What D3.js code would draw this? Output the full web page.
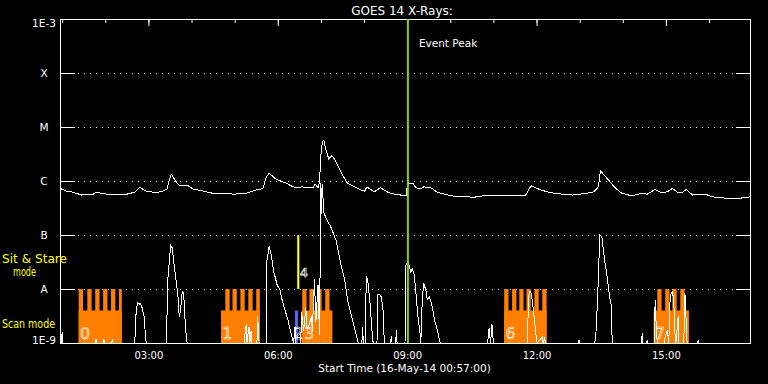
<!DOCTYPE html>
<html>
<head>
<meta charset="utf-8">
<script src="https://cdn.jsdelivr.net/npm/d3@7"></script>
<style>
  html, body { margin: 0; padding: 0; background: #000; }
  svg { display: block; }
</style>
</head>
<body>
<svg width="768" height="384"></svg>
<script>
// time window of the plot (16-May-14)
const day = '2014-05-16 ';
const startTime = '00:57';
const endTime = '16:57';
const eventPeak = '09:01';

const yTickValues = [1e-9, 1e-8, 1e-7, 1e-6, 1e-5, 1e-4, 1e-3];
const yTickLabels = ['1E-9', 'A', 'B', 'C', 'M', 'X', '1E-3'];

// GOES long channel
const goesTimes = [
  '00:57','01:06','01:15','01:27','01:43','01:48','01:57','02:16','02:30','02:41',
  '02:48','02:57','03:11','03:20','03:26','03:29','03:32','03:37','03:43','03:49',
  '03:55','04:02','04:16','04:30','04:48','04:58','05:16','05:30','05:37','05:40',
  '05:43','05:48','05:58','06:12','06:21','06:30','06:33','06:42','06:49','06:52',
  '06:56','06:58','07:00','07:02','07:04','07:07','07:11','07:15','07:19','07:24',
  '07:30','07:37','07:47','07:56','08:01','08:04','08:14','08:23','08:33','08:42',
  '08:50','08:52','08:59','09:00','09:03','09:08','09:12','09:18','09:23','09:33',
  '09:42','10:01','10:33','10:52','11:01','11:20','11:36','11:45','11:50','11:53',
  '12:04','12:18','12:36','12:50','13:09','13:20','13:26','13:29','13:34','13:41',
  '13:50','13:59','14:13','14:25','14:34','14:45','14:53','15:02','15:09','15:16',
  '15:23','15:28','15:37','15:48','15:55','16:04','16:23','16:41','16:51','16:57'
];
const goesFlux = [
  7.3e-7,6.5e-7,6.2e-7,5.5e-7,5.7e-7,6.2e-7,5.8e-7,5.5e-7,5.7e-7,6.2e-7,
  7.6e-7,6.5e-7,6.1e-7,6.5e-7,7.1e-7,1.04e-6,1.33e-6,1.04e-6,8.2e-7,8.4e-7,
  8.2e-7,7.1e-7,6.5e-7,5.9e-7,5.9e-7,5.7e-7,5.9e-7,6.8e-7,7.1e-7,7.5e-7,
  1.12e-6,1.39e-6,1.07e-6,9.1e-7,7.8e-7,7.5e-7,7.8e-7,7.5e-7,7.5e-7,8.7e-7,
  7.5e-7,9.7e-7,3.0e-6,5.3e-6,5.7e-6,3.75e-6,2.55e-6,2.94e-6,2.55e-6,1.84e-6,
  1.29e-6,9.1e-7,7.8e-7,6.8e-7,6.5e-7,7.8e-7,6.3e-7,7.5e-7,6.2e-7,5.7e-7,
  5.7e-7,5.3e-7,5.3e-7,8.2e-7,9.1e-7,9.1e-7,7.5e-7,7.1e-7,7.8e-7,7.5e-7,
  6.2e-7,5.3e-7,5.0e-7,5.5e-7,5.3e-7,5.3e-7,5.3e-7,5.5e-7,7.3e-7,8.1e-7,
  7.0e-7,6.1e-7,5.7e-7,5.5e-7,5.9e-7,6.3e-7,7.8e-7,1.55e-6,1.29e-6,1.01e-6,
  7.3e-7,5.9e-7,5.3e-7,5.9e-7,5.7e-7,7.0e-7,6.1e-7,6.3e-7,7.3e-7,6.2e-7,
  6.1e-7,7.0e-7,5.5e-7,5.7e-7,5.7e-7,5.1e-7,4.8e-7,4.8e-7,4.9e-7,5.1e-7
];

// lower trace (spiky, sits on the 1E-9 floor most of the time)
const lowTimes = [
  '00:57','00:59','01:00','01:01','01:46','01:47','01:48','01:57','01:58','01:59','02:09','02:10','02:11',
  '02:41','02:43','02:45','02:47','02:49','02:51','02:54','02:56','02:57',
  '03:25','03:27','03:31','03:33','03:38','03:41','03:43','03:45','03:47','03:49','03:51','03:53','03:54',
  '05:13','05:16','05:17','05:20','05:21','05:23','05:24','05:31','05:32','05:34',
  '05:44','05:45','05:48','05:51','05:54','05:59','06:03','06:06','06:10','06:14','06:19','06:21','06:22','06:24','06:25',
  '06:32','06:33','06:36','06:39','06:41','06:47','06:48','06:51','06:53','06:56','06:58',
  '07:00','07:01','07:02','07:04','07:07','07:10','07:13','07:21','07:28','07:33','07:37','07:44','07:51','07:52',
  '07:57','07:58','07:59','08:02','08:03','08:05','08:08','08:10','08:12','08:13',
  '08:18','08:19','08:21','08:24','08:27','08:28','08:29','08:37','08:38','08:39','08:44','08:45','08:46',
  '08:57','08:58','09:01','09:03','09:05','09:07','09:10','09:12','09:15','09:18','09:19',
  '09:21','09:23','09:24','09:26','09:28','09:31','09:35','09:38','09:42','09:45','09:46',
  '10:52','10:54','10:56','10:58','11:00',
  '11:47','11:49','11:50','11:52','11:54','11:57','12:00','12:01','12:08','12:09','12:11','12:13',
  '12:58','12:59','13:00',
  '13:21','13:23','13:26','13:28','13:31','13:33','13:35','13:38','13:42','13:44','13:45','13:46',
  '14:26','14:27','14:28','14:33','14:34','14:35','14:44','14:45','14:47','14:48',
  '14:58','14:59','15:02','15:04','15:06','15:09','15:11','15:12','15:14','15:17','15:18',
  '15:25','15:26','15:27','15:29','15:30','15:44','15:45','15:46','16:57'
];
const lowFlux = [
  1e-9,1e-9,1.6e-9,1e-9,1e-9,1.2e-9,1e-9,1e-9,1.2e-9,1e-9,1e-9,1.2e-9,1e-9,
  1e-9,4.0e-9,5.6e-9,5.2e-9,5.4e-9,4.6e-9,3.1e-9,1.3e-9,1e-9,
  1e-9,1.5e-8,6.5e-8,5.8e-8,1.6e-8,8.0e-9,3.0e-9,4.5e-9,8.9e-9,8.4e-9,2.7e-9,1.14e-9,1e-9,
  1e-9,2.2e-9,1e-9,2.0e-9,1e-9,1.7e-9,1e-9,1e-9,3.1e-9,1e-9,
  1e-9,3.4e-8,6.1e-8,4.2e-8,2.2e-8,1.2e-8,9.6e-9,6.3e-9,4.1e-9,2.7e-9,1.4e-9,1.14e-9,1e-9,2.0e-9,1e-9,
  1e-9,3.8e-9,1.7e-9,4.5e-9,1.7e-9,3.1e-9,1.6e-9,1.5e-8,2.45e-9,1.2e-8,1.4e-9,
  9.2e-7,2.5e-7,8.7e-7,2.6e-7,2.1e-7,1.7e-7,1.5e-7,8.0e-8,2.8e-8,1.5e-8,6.3e-9,2.7e-9,1.14e-9,1e-9,
  1e-9,2.0e-9,1e-9,1e-9,1.7e-8,1.5e-8,6.3e-9,2.7e-9,1.14e-9,1e-9,
  1e-9,7.8e-9,8.1e-9,7.1e-9,3.6e-9,1.14e-9,1e-9,1e-9,1.35e-9,1e-9,1e-9,1.74e-9,1e-9,
  1e-9,2.7e-8,3.2e-8,2.7e-8,2.05e-8,2.4e-8,1.8e-8,8.9e-9,3.1e-9,1.5e-9,1e-9,
  6.3e-9,1.3e-8,1.15e-8,9.6e-9,6.3e-9,7.2e-9,4.7e-9,2.7e-9,1.74e-9,1.14e-9,1e-9,
  1e-9,1.9e-9,1e-9,2.2e-9,1e-9,
  1e-9,6.3e-9,8.9e-9,9.0e-9,6.3e-9,2.7e-9,1.14e-9,1e-9,1.3e-9,1e-9,1.2e-9,1e-9,
  1e-9,1.14e-9,1e-9,
  1e-9,1.74e-9,1.5e-8,1.0e-7,9.2e-8,5.3e-8,3.15e-8,1.8e-8,6.8e-9,5.1e-9,1.4e-9,1e-9,
  1e-9,1.5e-9,1e-9,1e-9,1.14e-9,1e-9,1e-9,6.3e-9,1.5e-9,1e-9,
  1e-9,1.3e-9,1.74e-9,1e-9,7.8e-9,8.8e-9,6.3e-9,1.74e-9,1e-9,3.1e-9,1e-9,
  1e-9,8.3e-9,7.4e-9,1.14e-9,1e-9,1e-9,1.14e-9,1e-9,1e-9
];

// scan mode intervals (orange)
const scanStarts = ['01:23', '04:41', '06:33', '11:15', '14:43'];
const scanEnds   = ['02:23', '05:35', '07:16', '12:14', '15:32'];
const scanLabels = ['0', '1', '3', '6', '7'];
const scanTeeth = [
  ['01:23', '01:35', '01:46', '01:57', '02:08', '02:19'],
  ['04:47', '04:57', '05:08', '05:19', '05:30'],
  ['06:34', '06:44', '06:55', '07:06'],
  ['11:15', '11:26', '11:36', '11:46', '11:57', '12:08'],
  ['14:48', '14:59', '15:09', '15:20']
];
const toothMinutes = 6;
const scanLow = 4e-9;
const scanHigh = 1e-8;

// other pointings
const blueStart = '06:24', blueEnd = '06:28', blueLabel = '2';
const stareStart = '06:27', stareEnd = '06:30', stareLabel = '4';
const stareLow = 1e-8, stareHigh = 1e-7;

const parse = d3.timeParse('%Y-%m-%d %H:%M');
const t = s => parse(day + s);

const font = '"DejaVu Sans", sans-serif';
const svg = d3.select('svg');

const x = d3.scaleTime().domain([t(startTime), t(endTime)]).range([60, 750]);
const y = d3.scaleLog().domain([1e-9, 1e-3]).range([343, 19]);

svg.append('rect').attr('width', 768).attr('height', 384).attr('fill', '#000');

// dotted grid at the class levels
svg.append('g').selectAll('line')
  .data(yTickValues.slice(1, -1))
  .join('line')
  .attr('x1', 78).attr('x2', 735)
  .attr('y1', d => y(d) + 0.5).attr('y2', d => y(d) + 0.5)
  .attr('stroke', '#fff')
  .attr('stroke-dasharray', '1 5');

// scan mode blocks
const gScan = svg.append('g');
scanStarts.forEach((s, i) => {
  const x0 = x(t(s)), x1 = x(t(scanEnds[i]));
  gScan.append('rect')
    .attr('x', x0).attr('width', x1 - x0)
    .attr('y', y(scanLow)).attr('height', y(1e-9) - y(scanLow))
    .attr('fill', '#ff8000');
  scanTeeth[i].forEach(tt => {
    const a = x(t(tt));
    const b = Math.min(x(d3.timeMinute.offset(t(tt), toothMinutes)), x1);
    gScan.append('rect')
      .attr('x', a).attr('width', b - a)
      .attr('y', y(scanHigh)).attr('height', y(1e-9) - y(scanHigh))
      .attr('fill', '#ff8000');
  });
});

svg.append('rect')
  .attr('x', x(t(blueStart))).attr('width', x(t(blueEnd)) - x(t(blueStart)))
  .attr('y', y(scanLow)).attr('height', y(1e-9) - y(scanLow))
  .attr('fill', '#6464ff');

svg.append('rect')
  .attr('x', x(t(stareStart))).attr('width', x(t(stareEnd)) - x(t(stareStart)))
  .attr('y', y(stareHigh)).attr('height', y(stareLow) - y(stareHigh))
  .attr('fill', '#ffff00');

// traces
const line = d3.line().x(d => x(d[0])).y(d => y(d[1]));

svg.append('path')
  .datum(lowTimes.map((s, i) => [t(s), lowFlux[i]]))
  .attr('d', line)
  .attr('fill', 'none')
  .attr('stroke', '#fff')
  .attr('stroke-width', 1)
  .attr('shape-rendering', 'crispEdges');

svg.append('path')
  .datum(goesTimes.map((s, i) => [t(s), goesFlux[i]]))
  .attr('d', line)
  .attr('fill', 'none')
  .attr('stroke', '#fff')
  .attr('stroke-width', 1)
  .attr('shape-rendering', 'crispEdges');

// block numbers
const numStyle = sel => sel
  .attr('font-family', font)
  .attr('font-size', 15)
  .attr('fill', 'none')
  .attr('stroke', '#fff')
  .attr('stroke-width', 0.6);

svg.append('g').selectAll('text')
  .data(scanStarts)
  .join('text')
  .attr('x', (d, i) => x(t(d)) + (scanLabels[i] === '3' ? 3 : 1.5))
  .attr('y', 339)
  .text((d, i) => scanLabels[i])
  .call(numStyle);

svg.append('text').attr('x', x(t(blueStart)) - 1.5).attr('y', 339).text(blueLabel).call(numStyle);
svg.append('text').attr('x', x(t(stareEnd)) + 0.5).attr('y', 277)
  .text(stareLabel).call(numStyle).attr('font-size', 13);

// frame
svg.append('rect')
  .attr('x', 60.5).attr('y', 19.5).attr('width', 690).attr('height', 324)
  .attr('fill', 'none').attr('stroke', '#fff');

// y axes
const gy = svg.append('g').attr('transform', 'translate(60,0)')
  .call(d3.axisLeft(y).tickValues(yTickValues).tickFormat((d, i) => yTickLabels[i]).tickSize(-15).tickPadding(16));
gy.select('.domain').remove();
gy.selectAll('line').attr('stroke', '#fff');
gy.selectAll('text')
  .attr('fill', '#fff')
  .attr('font-family', font)
  .attr('font-size', 10.5)
  .attr('text-anchor', 'middle')
  .attr('x', -16)
  .attr('dy', (d, i) => i === 0 ? '0em' : i === yTickValues.length - 1 ? '0.72em' : '0.35em');

const gyr = svg.append('g').attr('transform', 'translate(750,0)')
  .call(d3.axisRight(y).tickValues(yTickValues).tickFormat('').tickSize(-14));
gyr.select('.domain').remove();
gyr.selectAll('line').attr('stroke', '#fff');

// top ticks
const gTopMinor = svg.append('g').attr('transform', 'translate(0,19)')
  .call(d3.axisTop(x).ticks(d3.timeHour.every(1)).tickSize(-4).tickFormat(''));
const gTopMajor = svg.append('g').attr('transform', 'translate(0,19)')
  .call(d3.axisTop(x).ticks(d3.timeHour.every(3)).tickSize(-7).tickFormat(''));
[gTopMinor, gTopMajor].forEach(g => {
  g.select('.domain').remove();
  g.selectAll('line').attr('stroke', '#fff');
});

// bottom labels
const gx = svg.append('g').attr('transform', 'translate(0,343)')
  .call(d3.axisBottom(x).ticks(d3.timeHour.every(3)).tickFormat(d3.timeFormat('%H:%M')).tickSize(0));
gx.select('.domain').remove();
gx.selectAll('line').remove();
gx.selectAll('text')
  .attr('fill', '#fff')
  .attr('font-family', font)
  .attr('font-size', 10)
  .attr('y', 15.5)
  .attr('dy', null);

svg.append('text')
  .attr('x', 404.5).attr('y', 372)
  .attr('text-anchor', 'middle')
  .attr('font-family', font).attr('font-size', 10.5)
  .attr('fill', '#fff')
  .text('Start Time (16-May-14 00:57:00)');

// title
svg.append('text')
  .attr('x', 402).attr('y', 14.5)
  .attr('text-anchor', 'middle')
  .attr('font-family', font).attr('font-size', 12)
  .attr('fill', '#fff')
  .text('GOES 14 X-Rays:');

// event peak
const xe = x(t(eventPeak));
svg.append('line')
  .attr('x1', xe).attr('x2', xe)
  .attr('y1', 19).attr('y2', 343)
  .attr('stroke', '#99cc00')
  .attr('stroke-width', 2);
svg.append('text')
  .attr('x', xe + 11).attr('y', 47)
  .attr('font-family', font).attr('font-size', 10.5)
  .attr('fill', '#fff')
  .text('Event Peak');

// mode labels
const modeLabels = [
  {text: 'Sit & Stare', x: 2, y: 263, len: 65},
  {text: 'mode', x: 13, y: 276, len: 23},
  {text: 'Scan mode', x: 2, y: 328, len: 53}
];
svg.append('g').selectAll('text')
  .data(modeLabels)
  .join('text')
  .attr('x', d => d.x).attr('y', d => d.y)
  .attr('textLength', d => d.len)
  .attr('lengthAdjust', 'spacingAndGlyphs')
  .attr('font-family', font).attr('font-size', 11.5)
  .attr('fill', '#ffff00')
  .text(d => d.text);
</script>
</body>
</html>
